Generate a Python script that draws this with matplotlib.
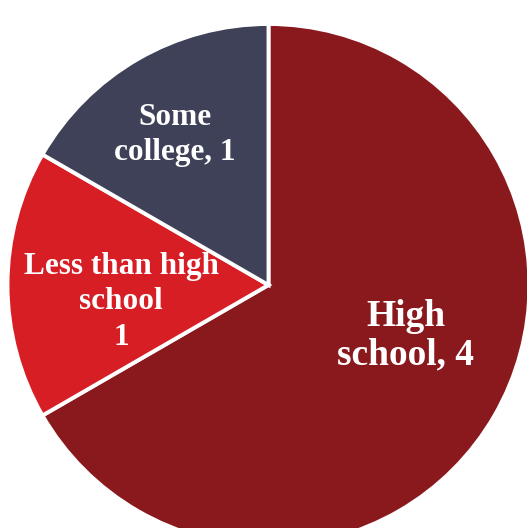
import matplotlib.pyplot as plt

# education level counts
labels = ['High\nschool, 4', 'Less than high\nschool\n1', 'Some\ncollege, 1']
values = [4, 1, 1]
colors = ['#8A191E', '#D71E25', '#3E4157']

plt.rcParams['font.family'] = 'Liberation Serif'

fig = plt.figure(figsize=(5.27, 5.28), dpi=100)
ax = fig.add_axes([0, 0, 1, 1])

wedges, _ = ax.pie(values, colors=colors, startangle=90, counterclock=False,
                   radius=1.0, wedgeprops=dict(edgecolor='white', linewidth=2.8))

# label positions (data coords, radius 1 = 261 px)
pos = [(0.525, -0.195), (-0.565, -0.065), (-0.36, 0.575)]
sizes = [27, 22.5, 22.5]
spacing = [1.12, 1.3, 1.3]
for lab, (x, y), s, ls in zip(labels, pos, sizes, spacing):
    ax.text(x, y, lab, ha='center', va='center', color='white',
            fontsize=s, fontweight='bold', linespacing=ls, multialignment='center')

cx, cy, r = 268.5, 285, 261
ax.set_xlim(-cx / r, (527 - cx) / r)
ax.set_ylim(-(528 - cy) / r, cy / r)
ax.set_aspect('equal')
ax.axis('off')

fig.savefig('out.png', dpi=100)
